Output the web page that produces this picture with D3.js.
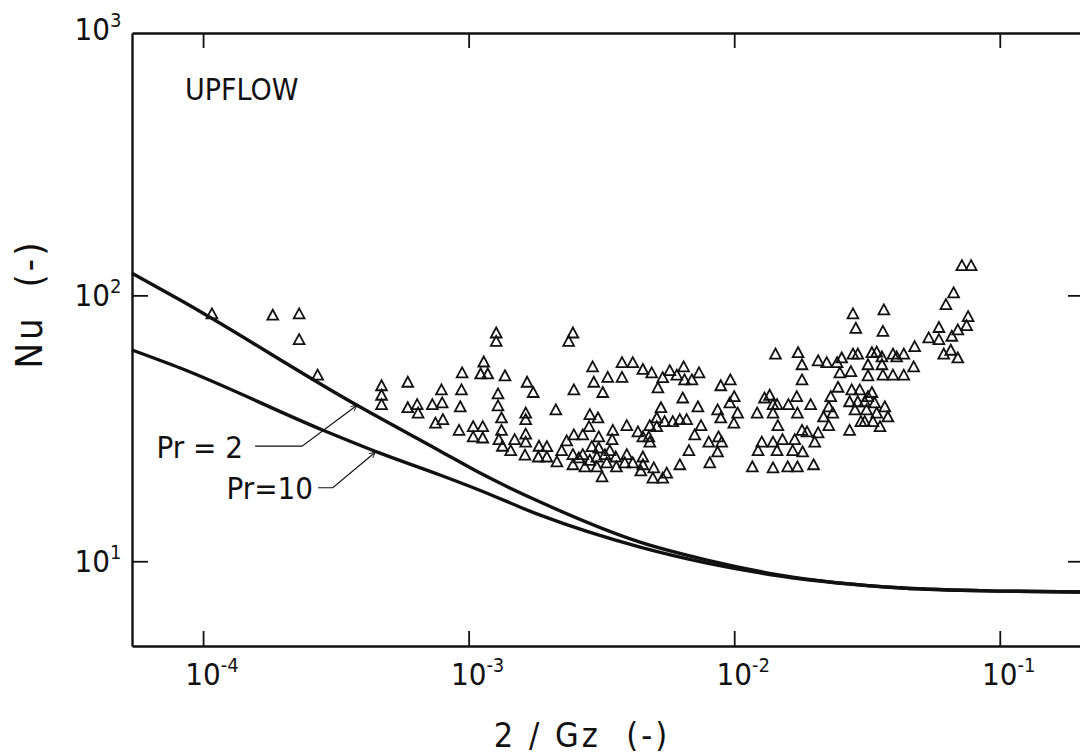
<!DOCTYPE html>
<html>
<head>
<meta charset="utf-8">
<script src="https://cdn.jsdelivr.net/npm/d3@7"></script>
<style>
  body { margin: 0; background: #fff; }
  svg text { font-family: "Liberation Sans Narrow", "Arial Narrow", "DejaVu Sans Condensed", sans-serif; fill: #111; }
</style>
</head>
<body>
<div id="chart"></div>
<script>
// upflow measurements: 2/Gz and Nu
var gzX = [
  1.08e-4, 1.83e-4, 2.3e-4, 2.3e-4, 2.7e-4, 4.7e-4, 4.7e-4, 4.7e-4, 5.9e-4, 5.9e-4,
  6.4e-4, 6.45e-4, 7.9e-4, 7.3e-4, 7.95e-4, 7.5e-4, 8.0e-4, 9.45e-4, 9.4e-4, 9.3e-4,
  9.2e-4, 1.04e-3, 1.04e-3, 1.13e-3, 1.13e-3, 1.14e-3, 1.11e-3, 1.18e-3, 1.37e-3, 1.27e-3,
  1.27e-3, 2.47e-3, 2.38e-3, 1.29e-3, 1.29e-3, 1.33e-3, 1.33e-3, 1.3e-3, 1.34e-3, 1.44e-3,
  1.49e-3, 1.66e-3, 1.75e-3, 1.64e-3, 1.64e-3, 1.64e-3, 1.64e-3, 1.63e-3, 1.84e-3, 1.97e-3,
  1.83e-3, 1.97e-3, 2.15e-3, 2.13e-3, 2.49e-3, 2.24e-3, 2.34e-3, 2.49e-3, 2.47e-3, 2.47e-3,
  2.6e-3, 2.69e-3, 2.86e-3, 3.07e-3, 2.93e-3, 3.2e-3, 3.34e-3, 2.96e-3, 2.84e-3, 3.09e-3,
  2.91e-3, 3.09e-3, 3.04e-3, 3.26e-3, 2.69e-3, 3.49e-3, 3.47e-3, 3.4e-3, 3.31e-3, 3.04e-3,
  2.74e-3, 3.18e-3, 3.58e-3, 3.6e-3, 3.87e-3, 3.94e-3, 4.15e-3, 4.53e-3, 4.53e-3, 4.45e-3,
  4.98e-3, 4.94e-3, 5.38e-3, 5.57e-3, 3.78e-3, 4.15e-3, 3.78e-3, 4.53e-3, 4.89e-3, 5.16e-3,
  5.38e-3, 5.72e-3, 6.08e-3, 6.45e-3, 6.5e-3, 6.93e-3, 7.37e-3, 6.4e-3, 5.3e-3, 5.11e-3,
  5.47e-3, 5.87e-3, 6.24e-3, 6.62e-3, 5.11e-3, 4.81e-3, 4.77e-3, 4.53e-3, 4.34e-3, 3.94e-3,
  4.81e-3, 7.3e-3, 7.5e-3, 7.1e-3, 6.75e-3, 6.24e-3, 8.02e-3, 8.09e-3, 8.66e-3, 8.9e-3,
  8.73e-3, 8.97e-3, 8.66e-3, 8.9e-3, 9.67e-3, 1.0e-2, 9.63e-3, 1.03e-2, 9.97e-3, 1.17e-2,
  2.86e-3,
  7.2e-2, 7.8e-2, 6.7e-2, 6.27e-2, 7.6e-2, 7.5e-2, 6.95e-2, 6.6e-2, 5.9e-2, 5.9e-2,
  5.4e-2, 6.15e-2, 6.54e-2, 6.95e-2, 2.8e-2, 2.87e-2, 3.66e-2, 3.63e-2, 4.78e-2, 4.74e-2,
  1.43e-2, 1.74e-2, 1.8e-2, 1.8e-2, 2.07e-2, 2.23e-2, 2.44e-2, 2.54e-2, 2.8e-2, 2.92e-2,
  2.5e-2, 2.75e-2, 3.19e-2, 3.3e-2, 3.44e-2, 3.6e-2, 3.6e-2, 3.96e-2, 4.09e-2, 4.35e-2,
  3.19e-2, 3.63e-2, 3.96e-2, 4.35e-2, 2.46e-2, 2.31e-2, 2.27e-2, 2.35e-2, 2.17e-2, 2.27e-2,
  2.77e-2, 2.97e-2, 2.72e-2, 2.92e-2, 3.1e-2, 2.85e-2, 3.19e-2, 3.3e-2, 3.38e-2, 3.15e-2,
  3.44e-2, 3.69e-2, 3.79e-2, 3.0e-2, 3.1e-2, 3.33e-2, 3.54e-2, 2.72e-2, 1.3e-2, 1.36e-2,
  1.4e-2, 1.45e-2, 1.4e-2, 1.6e-2, 1.72e-2, 1.73e-2, 1.94e-2, 1.22e-2, 1.46e-2, 1.4e-2,
  1.52e-2, 1.27e-2, 1.23e-2, 1.45e-2, 1.69e-2, 1.8e-2, 1.88e-2, 2.07e-2, 2.01e-2, 1.66e-2,
  1.81e-2, 1.4e-2, 1.59e-2, 1.73e-2, 1.99e-2
];
var nuY = [
  85, 84, 85, 68, 50, 45.6, 42, 38.7, 47, 37.7,
  38.7, 36, 44, 38.7, 39.3, 33, 34, 51, 44, 38,
  31, 32, 29.3, 32, 29, 56, 50.5, 50.5, 49.7, 72,
  67, 72, 67, 42.5, 38.3, 34.5, 31, 28.6, 27, 26,
  28.6, 47, 43, 36, 34, 30, 28, 25, 27, 26.9,
  24.6, 24.6, 23.6, 37, 44, 26, 28.3, 29.8, 25.1, 23,
  24.4, 29.8, 35.5, 34.5, 53.7, 43, 49, 47, 32, 29.3,
  26.9, 26.6, 24.6, 25.1, 25.1, 31, 28.6, 26, 23.4, 22.6,
  22.6, 20.7, 24.6, 22.6, 23.4, 25.1, 23.4, 24.6, 23, 21.8,
  22.4, 20.5, 20.5, 21.4, 55.7, 55.7, 49, 52.5, 51, 44.8,
  48.9, 52, 50, 53.7, 48, 48, 51, 41, 37.7, 34.5,
  33.4, 33.4, 34, 34, 32, 32.3, 29.3, 29.3, 30.6, 32.3,
  28, 38, 32.3, 29.8, 26, 23, 28, 23.4, 37, 34.5,
  29.3, 28, 25.7, 45.6, 48, 41.5, 39.3, 36, 33, 22.6,
  23.9,
  129, 129, 102, 92, 83, 76.7, 74, 70, 75.5, 68,
  69, 60, 62, 58, 85, 75, 88, 73, 64, 53.7,
  60, 60.7, 54.7, 48, 56.6, 55.7, 55.7, 58, 60, 60,
  51, 51.5, 54.7, 60.7, 61, 58.5, 54.7, 60, 58.5, 60,
  49.7, 50, 50, 50, 45, 41.5, 38, 36, 34.8, 32.3,
  44, 44, 39.7, 39.7, 39.7, 37, 41.5, 43, 39.3, 37,
  36, 38, 34.8, 33.4, 33.4, 33.4, 32, 31, 41, 42,
  38.7, 38.7, 36, 38.7, 41.5, 36, 38.7, 36, 32.3, 28,
  28.6, 28, 26, 26, 28.6, 31, 30.6, 30.3, 28, 26,
  25.7, 22.4, 22.6, 22.6, 23
];

// correlation curves
var pr2X  = [5.4e-5, 8.2e-5, 3.8e-4, 7.8e-4, 1.1e-3, 1.86e-3, 4.42e-3, 7.9e-3, 1.49e-2, 4.3e-2, 0.103, 0.204];
var pr2Nu = [121, 96, 38.6, 26.0, 21.5, 16.7, 11.8, 10.1, 8.87, 7.93, 7.72, 7.66];
var pr10X  = [5.4e-5, 8.2e-5, 2.83e-4, 4.64e-4, 7.8e-4, 1.1e-3, 1.86e-3, 4.42e-3, 7.9e-3, 1.49e-2, 4.3e-2, 0.103, 0.204];
var pr10Nu = [62.3, 53.3, 31.1, 25.5, 21.1, 18.5, 14.9, 11.3, 9.84, 8.8, 7.93, 7.72, 7.66];

// ticks
var xTicks = [1e-4, 1e-3, 1e-2, 1e-1];
var xTickExp = ["-4", "-3", "-2", "-1"];
var yTicks = [1e1, 1e2, 1e3];
var yTickExp = ["1", "2", "3"];

var width = 1080, height = 756;

var svg = d3.select("#chart")
  .append("svg")
    .attr("width", width)
    .attr("height", height);

var x = d3.scaleLog().domain([5.4e-5, 0.204]).range([132, 1082]);
var y = d3.scaleLog().domain([4.8, 970]).range([646, 33]);

// frame + inward ticks
function styleAxis(g) {
  g.select(".domain").attr("stroke", "#111").attr("stroke-width", 2.4);
  g.selectAll(".tick line").attr("stroke", "#111").attr("stroke-width", 1.8);
  g.selectAll(".tick text").remove();
}

svg.append("g")
  .attr("transform", "translate(0,646)")
  .call(d3.axisBottom(x).tickValues(xTicks).tickSize(-15).tickSizeOuter(0).tickFormat(""))
  .call(styleAxis);

svg.append("g")
  .attr("transform", "translate(0,33)")
  .call(d3.axisTop(x).tickValues(xTicks).tickSize(-15).tickSizeOuter(0).tickFormat(""))
  .call(styleAxis);

svg.append("g")
  .attr("transform", "translate(132,0)")
  .call(d3.axisLeft(y).tickValues([1e1, 1e2]).tickSize(-16).tickSizeOuter(0).tickFormat(""))
  .call(styleAxis);

svg.append("g")
  .attr("transform", "translate(1082,0)")
  .call(d3.axisRight(y).tickValues([1e1, 1e2]).tickSize(-14).tickSizeOuter(0).tickFormat(""))
  .call(styleAxis);

// tick labels: "10" with a raised exponent
function powerLabel(sel, exps) {
  sel.attr("font-size", 31);
  sel.append("tspan").text("10");
  sel.append("tspan")
    .attr("dy", -13)
    .attr("font-size", 20)
    .text(function(d, i) { return exps[i]; });
}

svg.selectAll(".xlab")
  .data(xTicks)
  .enter()
  .append("text")
    .attr("class", "xlab")
    .attr("y", 685)
    .call(powerLabel, xTickExp)
    .each(function(d) {
      var w = this.getSubStringLength(0, 2);
      d3.select(this).attr("x", x(d) - w / 2);
    });

svg.selectAll(".ylab")
  .data(yTicks)
  .enter()
  .append("text")
    .attr("class", "ylab")
    .attr("y", function(d) { return y(d) + 11; })
    .call(powerLabel, yTickExp)
    .each(function(d) {
      var w = this.getSubStringLength(0, 2);
      d3.select(this).attr("x", 110 - w);
    });

// axis titles
svg.append("text")
  .attr("x", 582)
  .attr("y", 747)
  .attr("text-anchor", "middle")
  .attr("font-size", 34)
  .attr("letter-spacing", 3)
  .style("white-space", "pre")
  .text("2 / Gz  (-)");

svg.append("text")
  .attr("transform", "translate(42,304) rotate(-90)")
  .attr("text-anchor", "middle")
  .attr("font-size", 38)
  .attr("letter-spacing", 3)
  .style("white-space", "pre")
  .text("Nu  (-)");

svg.append("text")
  .attr("x", 185)
  .attr("y", 100)
  .attr("font-size", 30)
  .text("UPFLOW");

// curves
var line = d3.line()
  .x(function(d) { return x(d[0]); })
  .y(function(d) { return y(d[1]); })
  .curve(d3.curveMonotoneX);

var curves = [d3.zip(pr2X, pr2Nu), d3.zip(pr10X, pr10Nu)];
svg.selectAll(".curve")
  .data(curves)
  .enter()
  .append("path")
    .attr("class", "curve")
    .attr("d", line)
    .attr("fill", "none")
    .attr("stroke", "#111")
    .attr("stroke-width", 3.4);

// leader lines for the Pr labels: start, elbow, tip (data coords)
var pr2Leader = [[1.57e-4, 27.1], [2.36e-4, 27.1], [3.8e-4, 38.6]];
var pr10Leader = [[2.71e-4, 18.9], [3.08e-4, 18.9], [4.45e-4, 25.7]];

svg.append("defs").append("marker")
  .attr("id", "arr")
  .attr("viewBox", "0 0 10 10")
  .attr("refX", 10)
  .attr("refY", 5)
  .attr("markerWidth", 9)
  .attr("markerHeight", 6)
  .attr("markerUnits", "userSpaceOnUse")
  .attr("orient", "auto")
  .append("path")
    .attr("d", "M0,0L10,5L0,10")
    .attr("fill", "none")
    .attr("stroke", "#111")
    .attr("stroke-width", 1.5);

var leaderLine = d3.line()
  .x(function(d) { return x(d[0]); })
  .y(function(d) { return y(d[1]); });

svg.selectAll(".leader")
  .data([pr2Leader, pr10Leader])
  .enter()
  .append("path")
    .attr("class", "leader")
    .attr("d", leaderLine)
    .attr("fill", "none")
    .attr("stroke", "#111")
    .attr("stroke-width", 1.2)
    .attr("marker-end", "url(#arr)");

svg.append("text")
  .attr("x", x(pr2Leader[0][0]) - 12)
  .attr("y", y(pr2Leader[0][1]) + 12)
  .attr("text-anchor", "end")
  .attr("font-size", 31)
  .style("white-space", "pre")
  .text("Pr = 2");

svg.append("text")
  .attr("x", x(pr10Leader[0][0]) - 5)
  .attr("y", y(pr10Leader[0][1]) + 11)
  .attr("text-anchor", "end")
  .attr("font-size", 31)
  .text("Pr=10");

// data points, open triangles
svg.selectAll(".pt")
  .data(d3.zip(gzX, nuY))
  .enter()
  .append("path")
    .attr("class", "pt")
    .attr("transform", function(d) { return "translate(" + x(d[0]) + "," + y(d[1]) + ")"; })
    .attr("d", "M0,-5.8L5.4,4.2L-5.4,4.2Z")
    .attr("fill", "none")
    .attr("stroke", "#111")
    .attr("stroke-width", 1.8);
</script>
</body>
</html>
